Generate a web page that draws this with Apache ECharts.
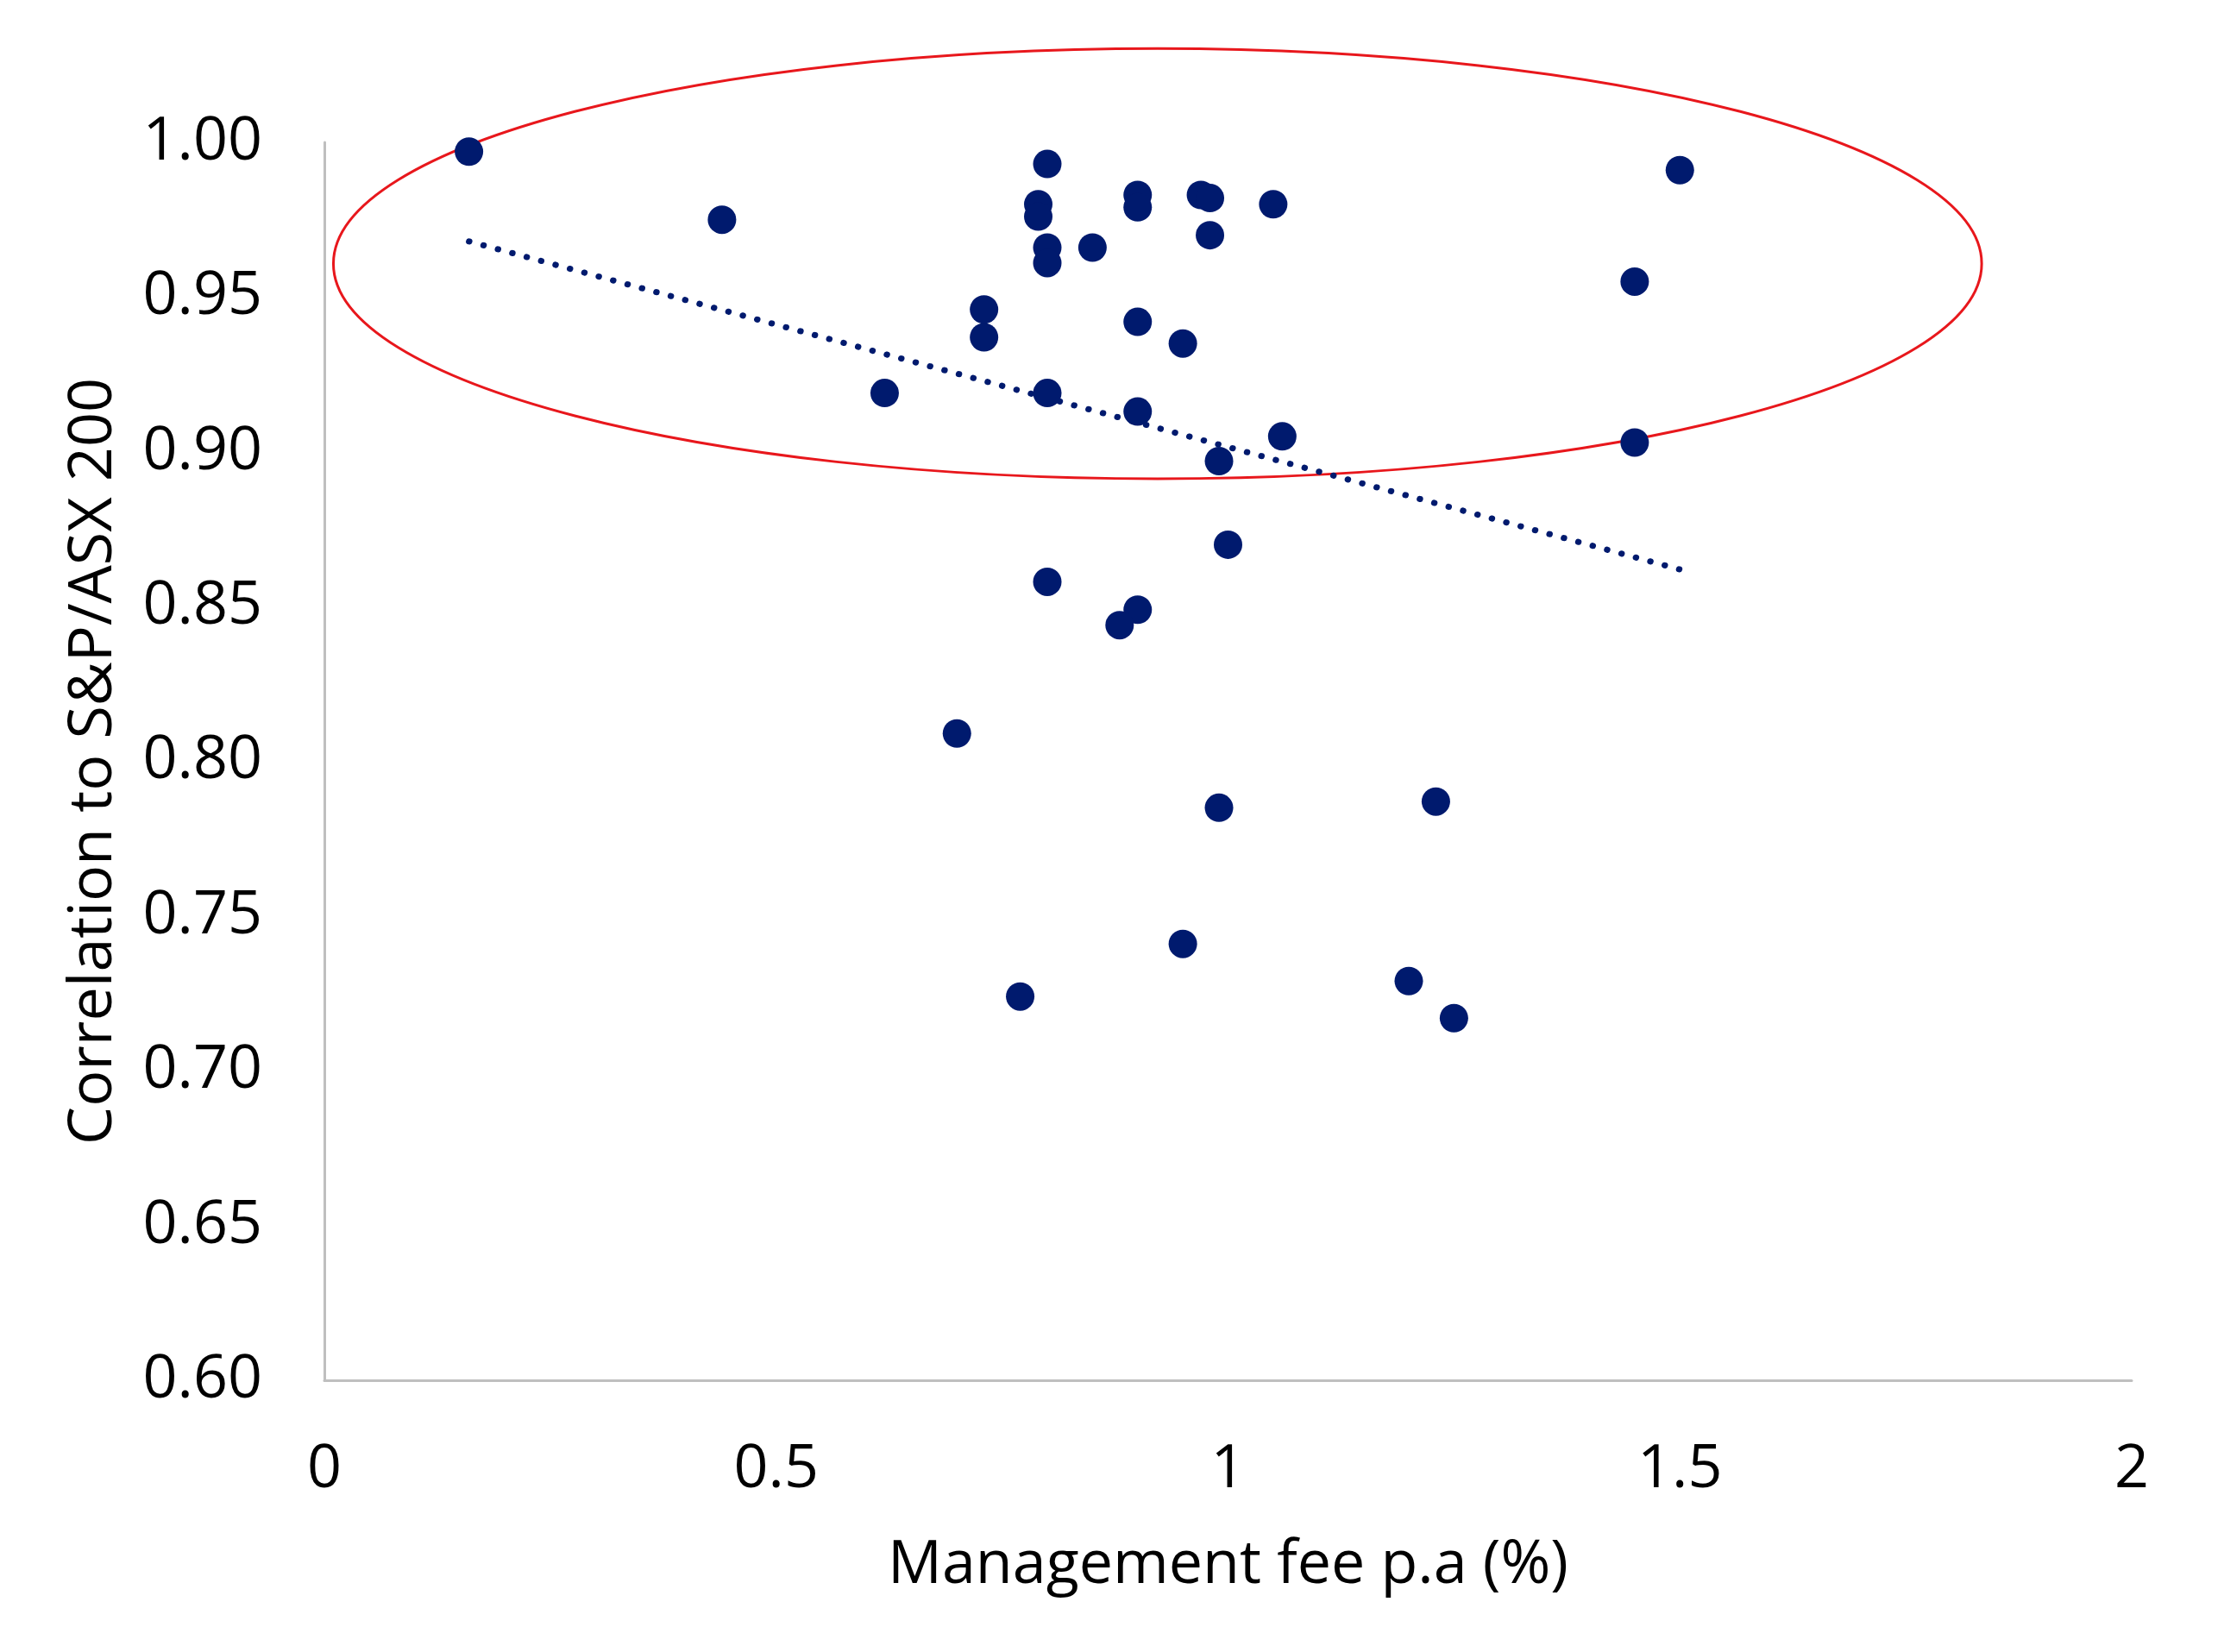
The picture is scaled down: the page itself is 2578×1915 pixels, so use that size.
<!DOCTYPE html>
<html>
<head>
<meta charset="utf-8">
<title>Management fee vs correlation</title>
<script src="https://cdn.jsdelivr.net/npm/echarts@6/dist/echarts.min.js"></script>
<style>
  html, body { margin: 0; padding: 0; background: #fff; }
  #chart { width: 2578px; height: 1915px; }
</style>
</head>
<body>
<div id="chart"></div>
<script>
// management fee p.a (%) for each fund
var feeX = [
    0.16, 0.44, 0.80, 0.79, 0.79, 0.90, 0.90, 0.97, 0.98, 1.05,
    0.98, 0.80, 0.80, 0.85, 0.73, 0.73, 0.90, 0.95, 0.62, 0.80,
    0.90, 0.99, 1.06, 1.50, 1.45, 1.45, 1.00, 0.80, 0.90, 0.88,
    0.70, 0.99, 1.23, 0.95, 0.77, 1.20, 1.25
];
// correlation to S&P/ASX 200
var corrY = [
    0.997, 0.975, 0.993, 0.980, 0.976, 0.983, 0.979, 0.983, 0.982, 0.980,
    0.970, 0.966, 0.961, 0.966, 0.946, 0.937, 0.942, 0.935, 0.919, 0.919,
    0.913, 0.897, 0.905, 0.991, 0.955, 0.903, 0.870, 0.858, 0.849, 0.844,
    0.809, 0.785, 0.787, 0.741, 0.724, 0.729, 0.717
];
// linear trend line, start and end
var trendX = [0.16, 1.50];
var trendY = [0.968, 0.862];
// highlight ellipse: centre x, centre y, radius x, radius y (data units)
var ellipseData = [0.922, 0.9608, 0.912, 0.0695];

var xTicks = [0, 0.5, 1, 1.5, 2];
var yTicks = [0.60, 0.65, 0.70, 0.75, 0.80, 0.85, 0.90, 0.95, 1.00];

var navy = '#001a6e';
var font = '"Open Sans", "Noto Sans", sans-serif';

var points = feeX.map(function (x, i) { return [x, corrY[i]]; });
var trend = trendX.map(function (x, i) { return [x, trendY[i]]; });

var chart = echarts.init(document.getElementById('chart'), null, { renderer: 'canvas' });

chart.setOption({
    animation: false,
    backgroundColor: '#fff',
    grid: { left: 376, right: 107, top: 165, bottom: 315, containLabel: false },
    xAxis: {
        type: 'value',
        min: xTicks[0],
        max: xTicks[xTicks.length - 1],
        interval: 0.5,
        name: 'Management fee p.a (%)',
        nameLocation: 'middle',
        nameGap: 180,
        nameTextStyle: { fontFamily: font, fontSize: 70, color: '#000' },
        axisLine: { lineStyle: { color: '#bfbfbf', width: 3 } },
        axisTick: { show: false },
        splitLine: { show: false },
        axisLabel: { fontFamily: font, fontSize: 70, color: '#000', margin: 69 }
    },
    yAxis: {
        type: 'value',
        min: yTicks[0],
        max: yTicks[yTicks.length - 1],
        interval: 0.05,
        name: 'Correlation to S&P/ASX 200',
        nameLocation: 'middle',
        nameGap: 232,
        nameRotate: 90,
        nameTextStyle: { fontFamily: font, fontSize: 70, color: '#000' },
        axisLine: { show: true, lineStyle: { color: '#bfbfbf', width: 3 } },
        axisTick: { show: false },
        splitLine: { show: false },
        axisLabel: {
            fontFamily: font, fontSize: 70, color: '#000', margin: 72,
            formatter: function (v) { return v.toFixed(2); }
        }
    },
    series: [
        {
            type: 'custom',
            coordinateSystem: 'cartesian2d',
            silent: true,
            clip: false,
            z: 1,
            data: [ellipseData],
            renderItem: function (params, api) {
                var c = api.coord([api.value(0), api.value(1)]);
                var s = api.size([api.value(2), api.value(3)]);
                return {
                    type: 'ellipse',
                    shape: { cx: c[0], cy: c[1], rx: s[0], ry: s[1] },
                    style: { fill: 'none', stroke: '#e8171c', lineWidth: 3 }
                };
            }
        },
        {
            type: 'line',
            data: trend,
            symbol: 'none',
            z: 2,
            lineStyle: { color: navy, width: 7, type: [0.5, 16.8], cap: 'round' }
        },
        {
            type: 'scatter',
            data: points,
            symbol: 'circle',
            symbolSize: 33,
            z: 3,
            itemStyle: { color: navy, opacity: 1 }
        }
    ]
});
</script>
</body>
</html>
